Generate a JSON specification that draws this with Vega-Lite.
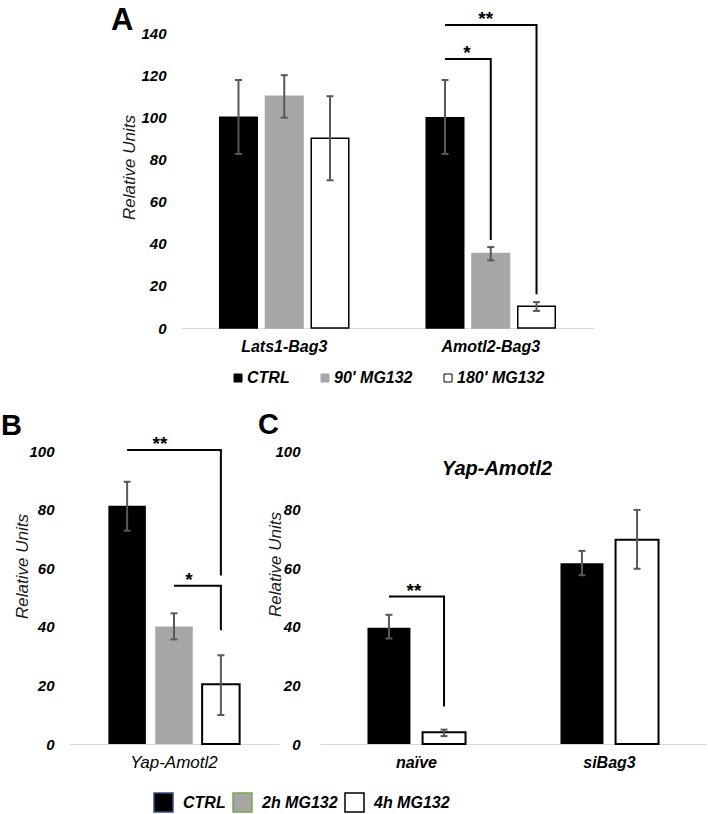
{
  "$schema": "https://vega.github.io/schema/vega-lite/v6.json",
  "padding": {"left": 0, "top": 4, "right": 2, "bottom": 2},
  "background": "white",
  "config": {
    "font": "Liberation Sans",
    "view": {"stroke": null},
    "axis": {"grid": false, "ticks": false, "labelColor": "#000", "labelFontStyle": "italic", "labelFontWeight": "bold", "labelFontSize": 15, "titleColor": "#1a1a1a", "titleFontStyle": "italic", "titleFontWeight": "normal", "titleFontSize": 17},
    "axisX": {"domainColor": "#d9d9d9", "domainWidth": 1, "labelAngle": 0, "labelFontSize": 16, "labelPadding": 10},
    "axisY": {"domain": false, "labelPadding": 15},
    "legend": {"layout": {"bottom": {"anchor": "middle"}}},
    "title": {"fontSize": 29, "fontWeight": "bold", "anchor": "start", "color": "#000"}
  },
  "datasets": {
    "a": [
      {"group": "Lats1-Bag3", "series": "CTRL", "value": 100, "lo": 82.6, "hi": 117.7},
      {"group": "Lats1-Bag3", "series": "90' MG132", "value": 110, "lo": 99.8, "hi": 120},
      {"group": "Lats1-Bag3", "series": "180' MG132", "value": 90, "lo": 70.1, "hi": 110},
      {"group": "Amotl2-Bag3", "series": "CTRL", "value": 99.8, "lo": 82.6, "hi": 117.7},
      {"group": "Amotl2-Bag3", "series": "90' MG132", "value": 35.3, "lo": 32.1, "hi": 38.4},
      {"group": "Amotl2-Bag3", "series": "180' MG132", "value": 10.3, "lo": 8.1, "hi": 12.3}
    ],
    "aBr": [
      {"id": "s1", "group": "Amotl2-Bag3", "series": "CTRL", "value": 127.7, "ord": 1},
      {"id": "s1", "group": "Amotl2-Bag3", "series": "90' MG132", "value": 127.7, "ord": 2},
      {"id": "s1", "group": "Amotl2-Bag3", "series": "90' MG132", "value": 41.8, "ord": 3},
      {"id": "s2", "group": "Amotl2-Bag3", "series": "CTRL", "value": 143.8, "ord": 1},
      {"id": "s2", "group": "Amotl2-Bag3", "series": "180' MG132", "value": 143.8, "ord": 2},
      {"id": "s2", "group": "Amotl2-Bag3", "series": "180' MG132", "value": 16, "ord": 3}
    ],
    "b": [
      {"group": "Yap-Amotl2", "series": "CTRL", "value": 81.3, "lo": 72.8, "hi": 89.5},
      {"group": "Yap-Amotl2", "series": "2h MG132", "value": 40.1, "lo": 35.7, "hi": 44.6},
      {"group": "Yap-Amotl2", "series": "4h MG132", "value": 20.4, "lo": 9.9, "hi": 30.3}
    ],
    "bBr": [
      {"id": "s2", "group": "Yap-Amotl2", "series": "CTRL", "value": 100.3, "ord": 1},
      {"id": "s2", "group": "Yap-Amotl2", "series": "4h MG132", "value": 100.3, "ord": 2},
      {"id": "s2", "group": "Yap-Amotl2", "series": "4h MG132", "value": 57.5, "ord": 3},
      {"id": "s1", "group": "Yap-Amotl2", "series": "2h MG132", "value": 54, "ord": 1},
      {"id": "s1", "group": "Yap-Amotl2", "series": "4h MG132", "value": 54, "ord": 2},
      {"id": "s1", "group": "Yap-Amotl2", "series": "4h MG132", "value": 38.8, "ord": 3}
    ],
    "c": [
      {"group": "naïve", "series": "CTRL", "value": 39.7, "lo": 36, "hi": 44.1},
      {"group": "naïve", "series": "4h MG132", "value": 4, "lo": 2.7, "hi": 4.9},
      {"group": "siBag3", "series": "CTRL", "value": 61.7, "lo": 57.6, "hi": 65.9},
      {"group": "siBag3", "series": "4h MG132", "value": 69.7, "lo": 59.8, "hi": 79.9}
    ],
    "cBr": [
      {"id": "s2", "group": "naïve", "series": "CTRL", "value": 50.3, "ord": 1},
      {"id": "s2", "group": "naïve", "series": "4h MG132", "value": 50.3, "ord": 2},
      {"id": "s2", "group": "naïve", "series": "4h MG132", "value": 12.8, "ord": 3}
    ]
  },
  "resolve": {"scale": {"fill": "independent", "stroke": "independent", "xOffset": "independent"}, "legend": {"fill": "independent", "stroke": "independent"}},
  "center": true,
  "spacing": 25,
  "vconcat": [
    {
      "width": 413,
      "height": 295,
      "title": {"text": "A", "dx": -10, "offset": -27, "fontSize": 31},
      "encoding": {
        "x": {"field": "group", "type": "nominal", "scale": {"domain": ["Lats1-Bag3", "Amotl2-Bag3"], "paddingInner": 0.375, "paddingOuter": 0.1875}, "axis": {"title": null}},
        "xOffset": {"field": "series", "type": "nominal", "scale": {"domain": ["CTRL", "90' MG132", "180' MG132"], "paddingInner": 0.18}}
      },
      "layer": [
        {
          "data": {"name": "a"},
          "mark": {"type": "bar", "strokeWidth": 1.5},
          "encoding": {
            "y": {"field": "value", "type": "quantitative", "title": "Relative Units", "scale": {"domain": [0, 140]}, "axis": {"values": [0, 20, 40, 60, 80, 100, 120, 140], "titlePadding": 2, "titleY": 134}},
            "fill": {"field": "series", "type": "nominal", "scale": {"domain": ["CTRL", "90' MG132", "180' MG132"], "range": ["#000000", "#a6a6a6", "#ffffff"]}, "legend": {"title": null, "orient": "bottom", "direction": "horizontal", "symbolType": "square", "symbolSize": 64, "symbolStrokeWidth": 1, "labelOffset": 1, "columnPadding": 27, "labelFontSize": 16, "labelFontWeight": "bold", "labelFontStyle": "italic", "labelColor": "#000", "offset": 16}},
            "stroke": {"field": "series", "type": "nominal", "scale": {"domain": ["CTRL", "90' MG132", "180' MG132"], "range": ["#000000", "#a6a6a6", "#000000"]}, "legend": {"title": null, "orient": "bottom", "direction": "horizontal", "symbolType": "square", "symbolSize": 64, "symbolStrokeWidth": 1, "labelOffset": 1, "columnPadding": 27, "labelFontSize": 16, "labelFontWeight": "bold", "labelFontStyle": "italic", "labelColor": "#000", "offset": 16}}
          }
        },
        {
          "data": {"name": "a"},
          "mark": {"type": "rule", "color": "#595959", "strokeWidth": 2},
          "encoding": {"y": {"field": "lo", "type": "quantitative", "title": "Relative Units"}, "y2": {"field": "hi"}}
        },
        {
          "data": {"name": "a"},
          "mark": {"type": "tick", "orient": "horizontal", "size": 7, "thickness": 2, "color": "#595959", "opacity": 1},
          "encoding": {"y": {"field": "lo", "type": "quantitative", "title": "Relative Units"}}
        },
        {
          "data": {"name": "a"},
          "mark": {"type": "tick", "orient": "horizontal", "size": 7, "thickness": 2, "color": "#595959", "opacity": 1},
          "encoding": {"y": {"field": "hi", "type": "quantitative", "title": "Relative Units"}}
        },
        {
          "data": {"name": "aBr"},
          "mark": {"type": "line", "color": "#000", "strokeWidth": 2},
          "encoding": {"y": {"field": "value", "type": "quantitative", "title": "Relative Units"}, "detail": {"field": "id"}, "order": {"field": "ord"}}
        },
        {
          "data": {"values": [{"group": "Amotl2-Bag3", "series": "CTRL", "value": 127.7, "label": "*"}]},
          "mark": {"type": "text", "fontSize": 19, "fontWeight": "bold", "dx": 22, "baseline": "alphabetic"},
          "encoding": {"y": {"field": "value", "type": "quantitative", "title": "Relative Units"}, "text": {"field": "label"}}
        },
        {
          "data": {"values": [{"group": "Amotl2-Bag3", "series": "90' MG132", "value": 143.8, "label": "**"}]},
          "mark": {"type": "text", "fontSize": 19, "fontWeight": "bold", "dx": -5, "baseline": "alphabetic"},
          "encoding": {"y": {"field": "value", "type": "quantitative", "title": "Relative Units"}, "text": {"field": "label"}}
        }
      ]
    },
    {
      "hconcat": [
        {
          "width": 210,
          "height": 293,
          "title": {"text": "B", "dx": -13, "offset": -6},
          "encoding": {
            "x": {"field": "group", "type": "nominal", "scale": {"domain": ["Yap-Amotl2"], "paddingInner": 0.375, "paddingOuter": 0.1875}, "axis": {"title": null, "labelFontWeight": "normal", "labelFontSize": 17}},
            "xOffset": {"field": "series", "type": "nominal", "scale": {"domain": ["CTRL", "2h MG132", "4h MG132"], "paddingInner": 0.2}}
          },
          "layer": [
            {
              "data": {"name": "b"},
              "mark": {"type": "bar"},
              "encoding": {
                "y": {"field": "value", "type": "quantitative", "title": "Relative Units", "scale": {"domain": [0, 100]}, "axis": {"values": [0, 20, 40, 60, 80, 100], "titlePadding": -3, "titleY": 115}},
                "fill": {"field": "series", "type": "nominal", "scale": {"domain": ["CTRL", "2h MG132", "4h MG132"], "range": ["#000000", "#a6a6a6", "#ffffff"]}, "legend": {"title": null, "orient": "none", "legendX": 84, "legendY": 341, "direction": "horizontal", "symbolType": "square", "symbolSize": 361, "symbolStrokeWidth": 1.5, "labelOffset": 9, "columnPadding": 4, "labelFontSize": 16, "labelFontWeight": "bold", "labelFontStyle": "italic", "labelColor": "#000"}},
                "stroke": {"field": "series", "type": "nominal", "scale": {"domain": ["CTRL", "2h MG132", "4h MG132"], "range": ["#2f4f8f", "#70ad47", "#000000"]}, "legend": {"title": null, "orient": "none", "legendX": 84, "legendY": 341, "direction": "horizontal", "symbolType": "square", "symbolSize": 361, "symbolStrokeWidth": 1.5, "labelOffset": 9, "columnPadding": 4, "labelFontSize": 16, "labelFontWeight": "bold", "labelFontStyle": "italic", "labelColor": "#000"}},
                "strokeWidth": {"condition": {"test": "datum.series === '4h MG132'", "value": 2}, "value": 0}
              }
            },
            {
              "data": {"name": "b"},
              "mark": {"type": "rule", "color": "#595959", "strokeWidth": 2},
              "encoding": {"y": {"field": "lo", "type": "quantitative", "title": "Relative Units"}, "y2": {"field": "hi"}}
            },
            {
              "data": {"name": "b"},
              "mark": {"type": "tick", "orient": "horizontal", "size": 7, "thickness": 2, "color": "#595959", "opacity": 1},
              "encoding": {"y": {"field": "lo", "type": "quantitative", "title": "Relative Units"}}
            },
            {
              "data": {"name": "b"},
              "mark": {"type": "tick", "orient": "horizontal", "size": 7, "thickness": 2, "color": "#595959", "opacity": 1},
              "encoding": {"y": {"field": "hi", "type": "quantitative", "title": "Relative Units"}}
            },
            {
              "data": {"name": "bBr"},
              "mark": {"type": "line", "color": "#000", "strokeWidth": 2},
              "encoding": {"y": {"field": "value", "type": "quantitative", "title": "Relative Units"}, "detail": {"field": "id"}, "order": {"field": "ord"}}
            },
            {
              "data": {"values": [{"group": "Yap-Amotl2", "series": "2h MG132", "value": 100.3, "label": "**"}]},
              "mark": {"type": "text", "fontSize": 19, "fontWeight": "bold", "dx": -14, "baseline": "alphabetic"},
              "encoding": {"y": {"field": "value", "type": "quantitative", "title": "Relative Units"}, "text": {"field": "label"}}
            },
            {
              "data": {"values": [{"group": "Yap-Amotl2", "series": "2h MG132", "value": 54, "label": "*"}]},
              "mark": {"type": "text", "fontSize": 19, "fontWeight": "bold", "dx": 15, "baseline": "alphabetic"},
              "encoding": {"y": {"field": "value", "type": "quantitative", "title": "Relative Units"}, "text": {"field": "label"}}
            }
          ]
        },
        {
          "title": {"text": "C", "dx": -9},
          "vconcat": [
            {
              "width": 386,
              "height": 293,
              "title": {"text": "Yap-Amotl2", "anchor": "middle", "frame": "group", "fontSize": 20, "fontStyle": "italic", "offset": -35, "dx": -16},
              "encoding": {
                "x": {"field": "group", "type": "nominal", "scale": {"domain": ["naïve", "siBag3"], "paddingInner": 0.492, "paddingOuter": 0.246}, "axis": {"title": null}},
                "xOffset": {"field": "series", "type": "nominal", "scale": {"domain": ["CTRL", "4h MG132"], "paddingInner": 0.22}}
              },
              "layer": [
                {
                  "data": {"name": "c"},
                  "mark": {"type": "bar"},
                  "encoding": {
                    "y": {"field": "value", "type": "quantitative", "title": "Relative Units", "scale": {"domain": [0, 100]}, "axis": {"values": [0, 20, 40, 60, 80, 100], "titlePadding": -10, "labelPadding": 20, "titleY": 113}},
                    "fill": {"field": "series", "type": "nominal", "scale": {"domain": ["CTRL", "2h MG132", "4h MG132"], "range": ["#000000", "#a6a6a6", "#ffffff"]}, "legend": {"title": null, "orient": "none", "legendX": 84, "legendY": 341, "direction": "horizontal", "symbolType": "square", "symbolSize": 361, "symbolStrokeWidth": 1.5, "labelOffset": 9, "columnPadding": 4, "labelFontSize": 16, "labelFontWeight": "bold", "labelFontStyle": "italic", "labelColor": "#000"}},
                    "stroke": {"field": "series", "type": "nominal", "scale": {"domain": ["CTRL", "2h MG132", "4h MG132"], "range": ["#2f4f8f", "#70ad47", "#000000"]}, "legend": {"title": null, "orient": "none", "legendX": 84, "legendY": 341, "direction": "horizontal", "symbolType": "square", "symbolSize": 361, "symbolStrokeWidth": 1.5, "labelOffset": 9, "columnPadding": 4, "labelFontSize": 16, "labelFontWeight": "bold", "labelFontStyle": "italic", "labelColor": "#000"}},
                    "strokeWidth": {"condition": {"test": "datum.series === '4h MG132'", "value": 2}, "value": 0}
                  }
                },
                {
                  "data": {"name": "c"},
                  "mark": {"type": "rule", "color": "#595959", "strokeWidth": 2},
                  "encoding": {"y": {"field": "lo", "type": "quantitative", "title": "Relative Units"}, "y2": {"field": "hi"}}
                },
                {
                  "data": {"name": "c"},
                  "mark": {"type": "tick", "orient": "horizontal", "size": 7, "thickness": 2, "color": "#595959", "opacity": 1},
                  "encoding": {"y": {"field": "lo", "type": "quantitative", "title": "Relative Units"}}
                },
                {
                  "data": {"name": "c"},
                  "mark": {"type": "tick", "orient": "horizontal", "size": 7, "thickness": 2, "color": "#595959", "opacity": 1},
                  "encoding": {"y": {"field": "hi", "type": "quantitative", "title": "Relative Units"}}
                },
                {
                  "data": {"name": "cBr"},
                  "mark": {"type": "line", "color": "#000", "strokeWidth": 2},
                  "encoding": {"y": {"field": "value", "type": "quantitative", "title": "Relative Units"}, "detail": {"field": "id"}, "order": {"field": "ord"}}
                },
                {
                  "data": {"values": [{"group": "naïve", "series": "CTRL", "value": 50.3, "label": "**"}]},
                  "mark": {"type": "text", "fontSize": 19, "fontWeight": "bold", "dx": 25, "baseline": "alphabetic"},
                  "encoding": {"y": {"field": "value", "type": "quantitative", "title": "Relative Units"}, "text": {"field": "label"}}
                }
              ]
            }
          ]
        }
      ],
      "spacing": -22,
      "resolve": {"scale": {"xOffset": "independent"}}
    }
  ]
}
